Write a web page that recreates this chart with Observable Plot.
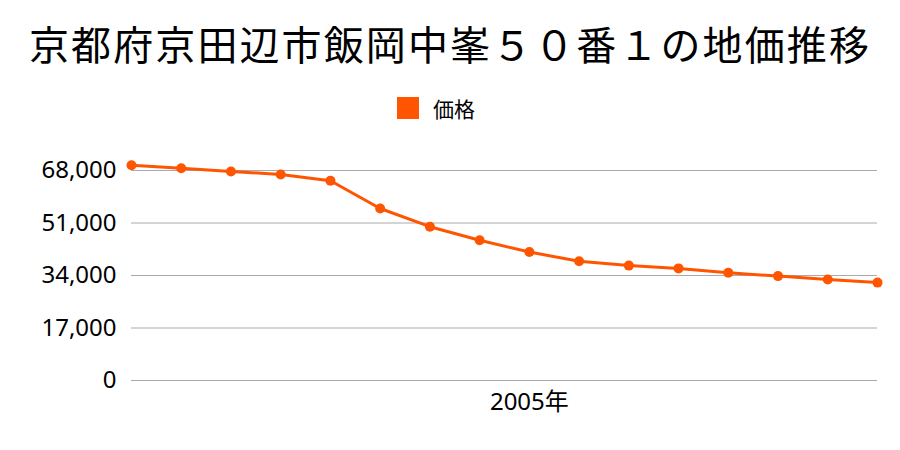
<!DOCTYPE html>
<html><head><meta charset="utf-8">
<script src="https://cdn.jsdelivr.net/npm/d3@7"></script>
<script src="https://cdn.jsdelivr.net/npm/@observablehq/plot@0.6"></script>
<style>
body{margin:0;background:#fff;width:900px;height:450px;overflow:hidden;font-family:"Noto Sans","Noto Sans CJK JP",sans-serif;color:#000}
#title{height:86px;line-height:86px;text-align:center;font-size:40px;letter-spacing:2.1px;font-family:"Noto Sans CJK JP",sans-serif;white-space:nowrap}
#legend{height:44px;position:relative}
#legend .sw{position:absolute;left:397px;top:11px;width:22px;height:22px}
#legend .lb{position:absolute;left:433px;top:0;height:44px;line-height:44px;font-size:21px;font-family:"Noto Sans CJK JP",sans-serif}
svg{display:block}
</style>
</head><body>
<div id="title"></div>
<div id="legend"><div class="sw"></div><div class="lb"></div></div>
<div id="chart"></div>
<script>
const titleText = "京都府京田辺市飯岡中峯５０番１の地価推移";
const seriesName = "価格";
const seriesColor = "#ff5500";
const years = [1997,1998,1999,2000,2001,2002,2003,2004,2005,2006,2007,2008,2009,2010,2011,2012];
const prices = [69700,68700,67700,66700,64700,55700,49800,45400,41600,38600,37200,36300,34900,33800,32700,31700];
const yTicks = [0,17000,34000,51000,68000];
const xTicks = [2005];

document.getElementById("title").textContent = titleText;
document.querySelector("#legend .sw").style.background = seriesColor;
document.querySelector("#legend .lb").textContent = seriesName;

const data = years.map((y,i)=>({year:y, price:prices[i]}));

const chart = Plot.plot({
  width: 900,
  height: 320,
  marginLeft: 131,
  marginRight: 23,
  marginTop: 40,
  marginBottom: 70,
  style: {fontSize: "24px", fontFamily: "'Noto Sans','Noto Sans CJK JP',sans-serif", color:"#000", background:"#fff"},
  x: {domain: [1997, 2012]},
  y: {domain: [0, 68000]},
  marks: [
    Plot.gridY(yTicks, {stroke: "#aaa", strokeOpacity: 1, strokeWidth: 1}),
    Plot.axisY(yTicks, {tickSize: 0, tickPadding: 15, tickFormat: d3.format(","), label: null}),
    Plot.axisX(xTicks, {tickSize: 0, tickPadding: 12, tickFormat: d => d + "年", label: null}),
    Plot.line(data, {x: "year", y: "price", stroke: seriesColor, strokeWidth: 3}),
    Plot.dot(data, {x: "year", y: "price", fill: seriesColor, r: 5})
  ]
});
document.getElementById("chart").appendChild(chart);
</script>
</body></html>
